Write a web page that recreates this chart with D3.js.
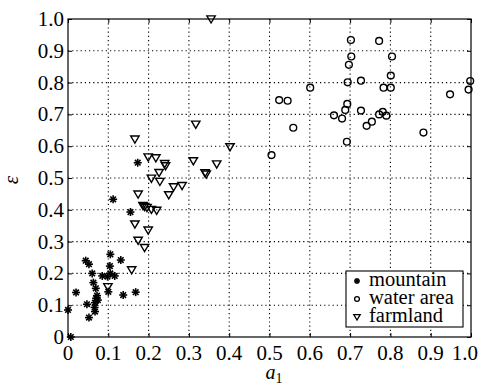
<!DOCTYPE html>
<html lang="en">
<head>
  <meta charset="utf-8">
  <title>scatter a1 vs epsilon</title>
  <script type="text/javascript" src="https://cdnjs.cloudflare.com/ajax/libs/d3/7.8.5/d3.min.js"></script>
  <style>
    body { margin: 0; background: #fff; }
    svg { display: block; }
    svg text { font-family: "Liberation Serif", "DejaVu Serif", serif; }
  </style>
</head>
<body>
  <script type="text/javascript">
    var width = 480;
    var height = 386;

    // [a1, epsilon]
    var mountain = [
      [0.007, 0.0], [0.0, 0.085], [0.02, 0.14], [0.047, 0.103], [0.052, 0.061],
      [0.044, 0.24], [0.052, 0.229], [0.06, 0.2], [0.063, 0.171], [0.069, 0.153],
      [0.07, 0.122], [0.067, 0.108], [0.074, 0.116], [0.066, 0.093], [0.067, 0.08],
      [0.072, 0.13], [0.085, 0.192], [0.098, 0.19], [0.1, 0.142], [0.105, 0.26],
      [0.104, 0.223], [0.105, 0.2], [0.116, 0.192], [0.131, 0.242], [0.137, 0.132],
      [0.168, 0.141], [0.155, 0.393], [0.112, 0.433], [0.173, 0.548]
    ];
    var water = [
      [0.524, 0.745], [0.545, 0.743], [0.601, 0.784], [0.559, 0.658], [0.505, 0.572],
      [0.702, 0.934], [0.772, 0.931], [0.703, 0.882], [0.697, 0.856], [0.804, 0.882],
      [0.801, 0.822], [0.694, 0.801], [0.727, 0.806], [0.783, 0.784], [0.801, 0.784],
      [0.693, 0.733], [0.688, 0.714], [0.727, 0.712], [0.66, 0.697], [0.68, 0.687],
      [0.772, 0.7], [0.781, 0.708], [0.79, 0.696], [0.754, 0.677], [0.741, 0.664],
      [0.692, 0.614], [0.882, 0.643], [0.948, 0.763], [0.994, 0.778], [0.998, 0.805]
    ];
    var farmland = [
      [0.166, 0.622], [0.199, 0.566], [0.218, 0.563], [0.24, 0.545], [0.242, 0.538],
      [0.226, 0.517], [0.207, 0.499], [0.228, 0.489], [0.262, 0.472], [0.283, 0.476],
      [0.25, 0.447], [0.174, 0.449], [0.186, 0.413], [0.19, 0.41], [0.196, 0.407],
      [0.207, 0.401], [0.22, 0.398], [0.166, 0.355], [0.199, 0.336], [0.174, 0.304],
      [0.19, 0.281], [0.158, 0.211], [0.099, 0.158], [0.311, 0.554], [0.34, 0.516],
      [0.343, 0.512], [0.369, 0.544], [0.317, 0.669], [0.402, 0.598], [0.355, 1.0]
    ];

    var xTicks = d3.range(0, 11).map(function (i) { return i / 10; });
    var yTicks = d3.range(0, 11).map(function (i) { return i / 10; });
    var tickLabel = function (d) { return d === 0 ? "0" : d.toFixed(1); };

    var legendNames = ["mountain", "water area", "farmland"];

    // plot box (window.top is read-only, so avoid that name)
    var pL = 68, pR = 471, pT = 19, pB = 337;
    var x = d3.scaleLinear().domain([0, 1]).range([pL, pR]);
    var y = d3.scaleLinear().domain([0, 1]).range([pB, pT]);
    var serif = "'Liberation Serif', 'DejaVu Serif', serif";

    var svg = d3.select("body").append("svg")
      .attr("width", width)
      .attr("height", height)
      .attr("font-family", serif);

    // dotted grid
    svg.append("g").selectAll("line")
      .data(xTicks.slice(1, -1))
      .enter().append("line")
      .attr("x1", function (d) { return x(d); })
      .attr("x2", function (d) { return x(d); })
      .attr("y1", pT).attr("y2", pB)
      .attr("stroke", "#000").attr("stroke-width", 1.1)
      .attr("stroke-dasharray", "1.2,3");
    svg.append("g").selectAll("line")
      .data(yTicks.slice(1, -1))
      .enter().append("line")
      .attr("y1", function (d) { return y(d); })
      .attr("y2", function (d) { return y(d); })
      .attr("x1", pL).attr("x2", pR)
      .attr("stroke", "#000").attr("stroke-width", 1.1)
      .attr("stroke-dasharray", "1.2,3");

    // axes, ticks inward, mirrored on all sides
    var tickLen = 4;
    svg.append("g").attr("transform", "translate(0," + pB + ")")
      .call(d3.axisTop(x).tickValues(xTicks).tickSize(tickLen).tickFormat(""));
    svg.append("g").attr("transform", "translate(0," + pT + ")")
      .call(d3.axisBottom(x).tickValues(xTicks).tickSize(tickLen).tickFormat(""));
    svg.append("g").attr("transform", "translate(" + pL + ",0)")
      .call(d3.axisRight(y).tickValues(yTicks).tickSize(tickLen).tickFormat(""));
    svg.append("g").attr("transform", "translate(" + pR + ",0)")
      .call(d3.axisLeft(y).tickValues(yTicks).tickSize(tickLen).tickFormat(""));
    svg.selectAll(".domain").remove();
    svg.selectAll(".tick line").attr("stroke", "#000");

    svg.append("rect")
      .attr("x", pL).attr("y", pT)
      .attr("width", pR - pL).attr("height", pB - pT)
      .attr("fill", "none").attr("stroke", "#000").attr("stroke-width", 1.2);

    // tick labels
    svg.append("g").selectAll("text")
      .data(xTicks)
      .enter().append("text")
      .attr("x", function (d, i) { return i === xTicks.length - 1 ? 478 : x(d); })
      .attr("y", pB + 23)
      .attr("text-anchor", function (d, i) { return i === xTicks.length - 1 ? "end" : "middle"; })
      .attr("font-family", serif)
      .attr("font-size", 21)
      .text(tickLabel);
    svg.append("g").selectAll("text")
      .data(yTicks)
      .enter().append("text")
      .attr("x", pL - 4)
      .attr("y", function (d) { return y(d) + 7; })
      .attr("text-anchor", "end")
      .attr("font-family", serif)
      .attr("font-size", 21)
      .text(tickLabel);

    // axis titles
    var xl = svg.append("text")
      .attr("x", (pL + pR) / 2 - 4)
      .attr("y", 379)
      .attr("font-family", serif)
      .attr("font-size", 20)
      .attr("font-style", "italic");
    xl.append("tspan").text("a");
    xl.append("tspan").attr("font-style", "normal").attr("font-size", 14)
      .attr("dy", 4).text("1");

    svg.append("text")
      .attr("transform", "translate(18," + ((pT + pB) / 2 + 2) + ") rotate(-90)")
      .attr("text-anchor", "middle")
      .attr("font-family", serif)
      .attr("font-size", 21)
      .attr("font-style", "italic")
      .text("ε");

    // marker shapes
    var star = function (g, s) {
      [[-s, 0, s, 0], [0, -s, 0, s], [-s * 0.7, -s * 0.7, s * 0.7, s * 0.7], [-s * 0.7, s * 0.7, s * 0.7, -s * 0.7]]
        .forEach(function (l) {
          g.append("line").attr("x1", l[0]).attr("y1", l[1]).attr("x2", l[2]).attr("y2", l[3])
            .attr("stroke", "#000").attr("stroke-width", 1.6);
        });
    };
    var tri = function (s) {
      return "M" + (-s) + "," + (-s * 0.75) + "L" + s + "," + (-s * 0.75) + "L0," + (s * 0.95) + "Z";
    };

    var plot = svg.append("g");

    plot.selectAll("g.mountain")
      .data(mountain)
      .enter().append("g")
      .attr("class", "mountain")
      .attr("transform", function (d) { return "translate(" + x(d[0]) + "," + y(d[1]) + ")"; })
      .each(function () { star(d3.select(this), 4); });

    plot.selectAll("circle.water")
      .data(water)
      .enter().append("circle")
      .attr("class", "water")
      .attr("cx", function (d) { return x(d[0]); })
      .attr("cy", function (d) { return y(d[1]); })
      .attr("r", 3.4)
      .attr("fill", "none").attr("stroke", "#000").attr("stroke-width", 1.4);

    plot.selectAll("path.farm")
      .data(farmland)
      .enter().append("path")
      .attr("class", "farm")
      .attr("transform", function (d) { return "translate(" + x(d[0]) + "," + y(d[1]) + ")"; })
      .attr("d", tri(4.2))
      .attr("fill", "none").attr("stroke", "#000").attr("stroke-width", 1.4);

    // legend
    var lg = svg.append("g");
    lg.append("rect")
      .attr("x", 346).attr("y", 271).attr("width", 117).attr("height", 56)
      .attr("fill", "#fff").attr("stroke", "#000").attr("stroke-width", 1.1);
    lg.selectAll("text")
      .data(legendNames)
      .enter().append("text")
      .attr("x", 369)
      .attr("y", function (d, i) { return 286 + i * 18; })
      .attr("font-family", serif)
      .attr("font-size", 20.5)
      .text(function (d) { return d; });
    var m0 = lg.append("g").attr("transform", "translate(357,281)");
    star(m0, 3);
    lg.append("circle").attr("cx", 357).attr("cy", 299).attr("r", 2.4)
      .attr("fill", "none").attr("stroke", "#000").attr("stroke-width", 1.3);
    lg.append("path").attr("transform", "translate(357,317)").attr("d", tri(3.2))
      .attr("fill", "none").attr("stroke", "#000").attr("stroke-width", 1.3);
  </script>
</body>
</html>
